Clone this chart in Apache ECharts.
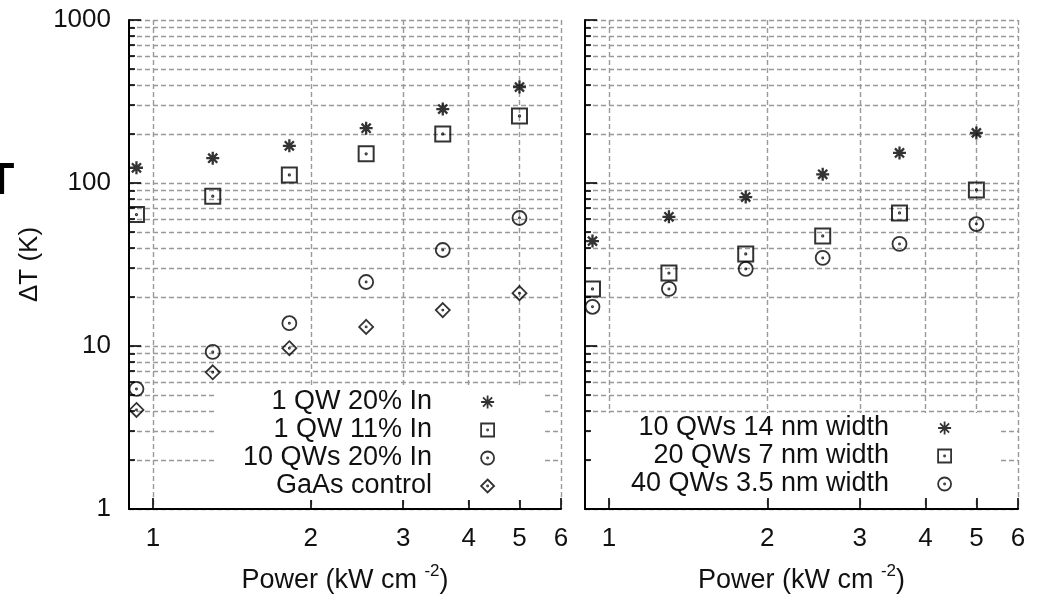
<!DOCTYPE html>
<html lang="en">
<head>
<meta charset="UTF-8">
<script src="https://cdn.jsdelivr.net/npm/echarts@6/dist/echarts.min.js"></script>
<title>Delta T vs power</title>
<style>
    html, body { margin: 0; padding: 0; background: #fff; }
    #main { width: 1040px; height: 597px; }
</style>
</head>
<body>
<div id="main"></div>
<script>
    // power density (kW cm^-2), same steps in both panels
    var power = [0.93, 1.30, 1.82, 2.55, 3.57, 5.0];

    // left panel, delta T (K)
    var qw1In20 = [124, 142, 169, 217, 284, 388];
    var qw1In11 = [64, 83, 112, 151, 200, 258];
    var qw10In20 = [5.45, 9.2, 13.8, 24.7, 38.8, 61];
    var gaasCtrl = [4.05, 6.9, 9.7, 13.1, 16.6, 21.1];

    // right panel, delta T (K)
    var qw10w14 = [44, 62, 82, 113, 153, 203];
    var qw20w7 = [22.4, 28, 36.7, 47.3, 65.5, 90.6];
    var qw40w35 = [17.4, 22.4, 29.7, 34.7, 42.3, 56];

    // ticks
    var xTicks = [1, 2, 3, 4, 5, 6];
    var yMajor = [1, 10, 100, 1000];
    var yMinor = [2, 3, 4, 5, 6, 7, 8, 9, 20, 30, 40, 50, 60, 70, 80, 90, 200, 300, 400, 500, 600, 700, 800, 900];

    var FONT = '"Liberation Sans", Arial, sans-serif';
    var INK = '#111';

    // gnuplot-like point types
    var STAR = 'path://M0,6H12M6,0V12M1.8,1.8L10.2,10.2M10.2,1.8L1.8,10.2';
    var BOX = 'path://M0,0H12V12H0ZM5.5,6A0.5,0.5,0,1,1,6.5,6A0.5,0.5,0,1,1,5.5,6Z';
    var CIRC = 'path://M0,6A6,6,0,1,1,12,6A6,6,0,1,1,0,6ZM5.5,6A0.5,0.5,0,1,1,6.5,6A0.5,0.5,0,1,1,5.5,6Z';
    var DIAM = 'path://M6,0L12,6L6,12L0,6ZM5.5,6A0.5,0.5,0,1,1,6.5,6A0.5,0.5,0,1,1,5.5,6Z';

    var gridLine = { show: true, lineStyle: { color: '#999', width: 1.4, type: [5, 3] } };

    function plain(v) { return String(v); }

    function pairs(xs, ys) {
        return xs.map(function (x, i) { return [x, ys[i]]; });
    }

    function pts(name, panel, ys, symbol, size, bw) {
        return {
            name: name,
            type: 'scatter',
            xAxisIndex: panel,
            yAxisIndex: panel * 2,
            data: pairs(power, ys),
            symbol: symbol,
            symbolSize: size,
            itemStyle: { color: 'rgba(0,0,0,0)', borderColor: '#000', borderWidth: bw },
            emphasis: { disabled: true },
            z: 3
        };
    }

    function xAxis(g) {
        return {
            type: 'log', logBase: 10, gridIndex: g, position: 'bottom',
            min: 0.9, max: 6,
            axisLine: { show: true, onZero: false, lineStyle: { color: '#000', width: 2 } },
            axisTick: { show: true, inside: true, length: 11, customValues: xTicks, lineStyle: { color: '#000', width: 1.6 } },
            axisLabel: { show: true, customValues: xTicks, formatter: plain, margin: 17, fontSize: 26, fontFamily: FONT, color: INK },
            splitLine: gridLine,
            minorTick: { show: false }, minorSplitLine: { show: false },
            name: '{a|Power (kW cm }{b|-2}{a|)}',
            nameLocation: 'middle',
            nameGap: 54,
            nameTextStyle: {
                fontFamily: FONT, color: INK,
                rich: {
                    a: { fontSize: 27, fontFamily: FONT, color: INK },
                    b: { fontSize: 17, fontFamily: FONT, color: INK, verticalAlign: 'top', padding: [0, 0, 19, 0] }
                }
            }
        };
    }

    function yMajorAxis(g) {
        return {
            type: 'log', logBase: 10, gridIndex: g, position: 'left',
            min: 1, max: 1000,
            axisLine: { show: true, onZero: false, lineStyle: { color: '#000', width: 2 } },
            axisTick: { show: true, inside: true, length: 12, customValues: yMajor, lineStyle: { color: '#000', width: 1.6 } },
            axisLabel: { show: g === 0, customValues: yMajor, formatter: plain, margin: 18, fontSize: 26, fontFamily: FONT, color: INK },
            splitLine: gridLine,
            minorTick: { show: false }, minorSplitLine: { show: false },
            name: g === 0 ? 'ΔT (K)' : '',
            nameLocation: 'middle',
            nameRotate: 90,
            nameGap: 86,
            nameTextStyle: { fontSize: 26, fontFamily: FONT, color: INK }
        };
    }

    function yMinorAxis(g) {
        return {
            type: 'log', logBase: 10, gridIndex: g, position: 'left',
            min: 1, max: 1000,
            axisLine: { show: false },
            axisTick: { show: true, inside: true, length: 6, customValues: yMinor, lineStyle: { color: '#000', width: 1.6 } },
            axisLabel: { show: false },
            splitLine: gridLine,
            minorTick: { show: false }, minorSplitLine: { show: false }
        };
    }

    function legend(names, right, top, padLeft, padRight) {
        return {
            orient: 'vertical',
            align: 'right',
            right: right,
            top: top,
            padding: [1, padRight, 0, padLeft],
            backgroundColor: '#fff',
            itemWidth: 13,
            itemHeight: 13,
            itemGap: 0,
            selectedMode: false,
            data: names,
            itemStyle: { borderWidth: 1.8 },
            textStyle: { fontSize: 27, fontFamily: FONT, color: INK, lineHeight: 28, padding: [0, 44, 0, 0] }
        };
    }

    var chart = echarts.init(document.getElementById('main'));

    var option = {
        animation: false,
        backgroundColor: '#fff',
        grid: [
            { left: 129, top: 20, width: 432, height: 489, outerBoundsMode: 'none' },
            { left: 585, top: 20, width: 433, height: 489, outerBoundsMode: 'none' }
        ],
        xAxis: [xAxis(0), xAxis(1)],
        yAxis: [yMajorAxis(0), yMinorAxis(0), yMajorAxis(1), yMinorAxis(1)],
        legend: [
            legend(['1 QW 20% In', '1 QW 11% In', '10 QWs 20% In', 'GaAs control'], 495, 387, 28, 50),
            legend(['10 QWs 14 nm width', '20 QWs 7 nm width', '40 QWs 3.5 nm width'], 40, 413, 39, 48)
        ],
        graphic: [
            // clipped letter at the left edge of the source figure
            { type: 'text', x: 1, y: 160, style: { text: 'T', font: 'bold 44px "Liberation Sans", Arial', fill: '#000', align: 'center' } }
        ],
        series: [
            pts('1 QW 20% In', 0, qw1In20, STAR, 13, 2.3),
            pts('1 QW 11% In', 0, qw1In11, BOX, 15, 2),
            pts('10 QWs 20% In', 0, qw10In20, CIRC, 14, 1.8),
            pts('GaAs control', 0, gaasCtrl, DIAM, 14, 1.8),
            pts('10 QWs 14 nm width', 1, qw10w14, STAR, 13, 2.3),
            pts('20 QWs 7 nm width', 1, qw20w7, BOX, 15, 2),
            pts('40 QWs 3.5 nm width', 1, qw40w35, CIRC, 14, 1.8)
        ]
    };

    chart.setOption(option);
</script>
</body>
</html>
